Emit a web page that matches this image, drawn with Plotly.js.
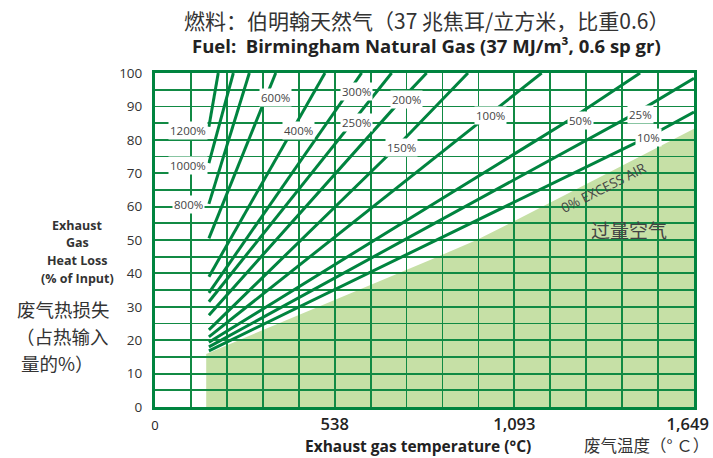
<!DOCTYPE html>
<html><head><meta charset="utf-8">
<script src="https://cdn.plot.ly/plotly-3.0.1.min.js"></script>
<style>html,body{margin:0;padding:0;background:#fff}#chart{width:713px;height:458px}</style>
</head><body><div id="chart"></div>
<script>
// Temperatures are positions on the chart's underlying grid (0–3000 °F, grid every 200 °F);
// the tick labels show the equivalent °C values as printed on the chart.
const excessAir = ['10%','25%','50%','100%','150%','200%','250%','300%','400%','600%','800%','1000%','1200%'];
const lineTemps = [
  [300, 2750, 3000],
  [300, 2674, 3000],
  [300, 2315, 2700],
  [300, 1859, 2152],
  [300, 1347, 1742],
  [300, 1378, 1512],
  [300, 1083, 1317],
  [300, 1085, 1150],
  [300, 789, 946],
  [300, 672],
  [300, 525],
  [300, 436],
  [300, 352]
];
const lineLoss = [
  [16.8, 81.0, 88.3],
  [18.0, 87.9, 98.4],
  [19.4, 86.2, 100],
  [21.0, 87.7, 100],
  [23.1, 78.0, 100],
  [27.5, 92.4, 100],
  [31.5, 84.5, 100],
  [34.2, 95.0, 100],
  [39.0, 85.4, 100],
  [50.5, 100],
  [60.8, 100],
  [73.0, 100],
  [83.9, 100]
];
const labelTemps = [2744, 2700, 2366, 1865, 1373, 1401, 1123, 1119, 799, 668, 189, 185, 185];
const labelLoss  = [80.8, 87.7, 85.9, 87.4, 77.8, 92.1, 85.1, 94.4, 82.7, 92.7, 60.5, 72.2, 82.7];
const zeroAirTemps = [285, 1531, 1790, 1976, 3000];
const zeroAirLoss  = [15.9, 44.0, 50.0, 55.0, 83.3];
// last label sits slightly inside the right edge, as printed
const xTickVals = [0, 1000, 2000, 2965];
const xTickText = ['<span style="font-size:13px;font-weight:400">0</span>', '538', '1,093', '1,649'];
const yTickVals = [0,10,20,30,40,50,60,70,80,90,100];

const GREEN = '#00843f';
const GRID = '#118a44';
const FILL = '#c6e0a6';
const LATIN = 'Open Sans, Lato, sans-serif';
const CJK = 'Noto Sans CJK SC, sans-serif';

const traces = excessAir.map((name, i) => ({
  type: 'scatter', mode: 'lines', name: name,
  x: lineTemps[i], y: lineLoss[i],
  line: {color: GREEN, width: 3},
  hoverinfo: 'skip', showlegend: false
}));

// 0% excess air region drawn as a shape under the grid
let path = 'M ' + zeroAirTemps[0] + ',0';
zeroAirTemps.forEach((t, i) => { path += ' L ' + t + ',' + zeroAirLoss[i]; });
path += ' L ' + zeroAirTemps[zeroAirTemps.length - 1] + ',0 Z';

const annotations = excessAir.map((name, i) => ({
  x: labelTemps[i], y: labelLoss[i], xref: 'x', yref: 'y',
  text: name, showarrow: false, bgcolor: '#ffffff', borderpad: 1,
  font: {family: LATIN, size: 11.5, color: '#444'}
}));

function paperX(px) { return (px - 155) / 539; }
function paperY(py) { return (407 - py) / 334; }
function addText(text, px, py, font, extra) {
  annotations.push(Object.assign({
    x: paperX(px), y: paperY(py), xref: 'paper', yref: 'paper',
    text: text, showarrow: false, font: font, xanchor: 'center', yanchor: 'middle'
  }, extra || {}));
}

annotations.push({
  x: 2494, y: 65.6, xref: 'x', yref: 'y', text: '0% EXCESS AIR', showarrow: false,
  textangle: -27, font: {family: LATIN, size: 13.5, color: '#444'}
});
annotations.push({
  x: 2638, y: 53, xref: 'x', yref: 'y', text: '过量空气', showarrow: false,
  font: {family: CJK, size: 19, color: '#444'}
});

addText('燃料：伯明翰天然气（37 兆焦耳/立方米，比重0.6）', 426, 20, {family: CJK, size: 21, color: '#333'});
addText('Fuel:  Birmingham Natural Gas (37 MJ/m³, 0.6 sp gr)', 426, 46, {family: LATIN, size: 18.5, color: '#222', weight: 700});

const yt = {family: LATIN, size: 12.5, color: '#333', weight: 700};
addText('Exhaust', 77, 225, yt);
addText('Gas', 77, 242.5, yt);
addText('Heat Loss', 77, 260, yt);
addText('(% of Input)', 77, 278, yt);
const yc = {family: CJK, size: 18.5, color: '#333'};
addText('废气热损失', 63, 309, yc);
addText('（占热输入', 62, 336, yc);
addText('量的%）', 57, 363, yc);

addText('Exhaust gas temperature (°C)', 418, 458, {family: LATIN, size: 15.5, color: '#222', weight: 700}, {yanchor: 'bottom', yshift: -1});
addText('废气温度（° Ｃ）', 711, 458, {family: CJK, size: 16.5, color: '#333'}, {xanchor: 'right', yanchor: 'bottom', yshift: -1});

const layout = {
  width: 713, height: 458,
  margin: {l: 155, r: 19, t: 73, b: 51},
  paper_bgcolor: '#ffffff', plot_bgcolor: '#ffffff',
  showlegend: false,
  xaxis: {
    range: [0, 3000], tickmode: 'array', tickvals: xTickVals, ticktext: xTickText,
    showgrid: false,
    minor: {tickmode: 'linear', tick0: 0, dtick: 200, showgrid: true, gridcolor: GRID, gridwidth: 1.8, ticks: ''},
    showline: true, mirror: true, linecolor: GREEN, linewidth: 3,
    ticks: '',
    tickfont: {family: LATIN, size: 16.5, color: '#222', weight: 600},
    zeroline: false, fixedrange: true
  },
  yaxis: {
    range: [0, 100], tickmode: 'array', tickvals: yTickVals,
    showgrid: true, gridcolor: GRID, gridwidth: 1.8,
    minor: {tickmode: 'linear', tick0: 0, dtick: 5, showgrid: true, gridcolor: GRID, gridwidth: 1.8, ticks: ''},
    showline: true, mirror: true, linecolor: GREEN, linewidth: 3,
    ticks: 'outside', ticklen: 7, tickcolor: 'rgba(0,0,0,0)',
    tickfont: {family: LATIN, size: 13.5, color: '#333'},
    zeroline: false, fixedrange: true
  },
  shapes: [{type: 'path', xref: 'x', yref: 'y', path: path, fillcolor: FILL, line: {width: 0}, layer: 'below'}],
  annotations: annotations
};

Plotly.newPlot('chart', traces, layout, {displayModeBar: false, staticPlot: true});
</script>
</body></html>
